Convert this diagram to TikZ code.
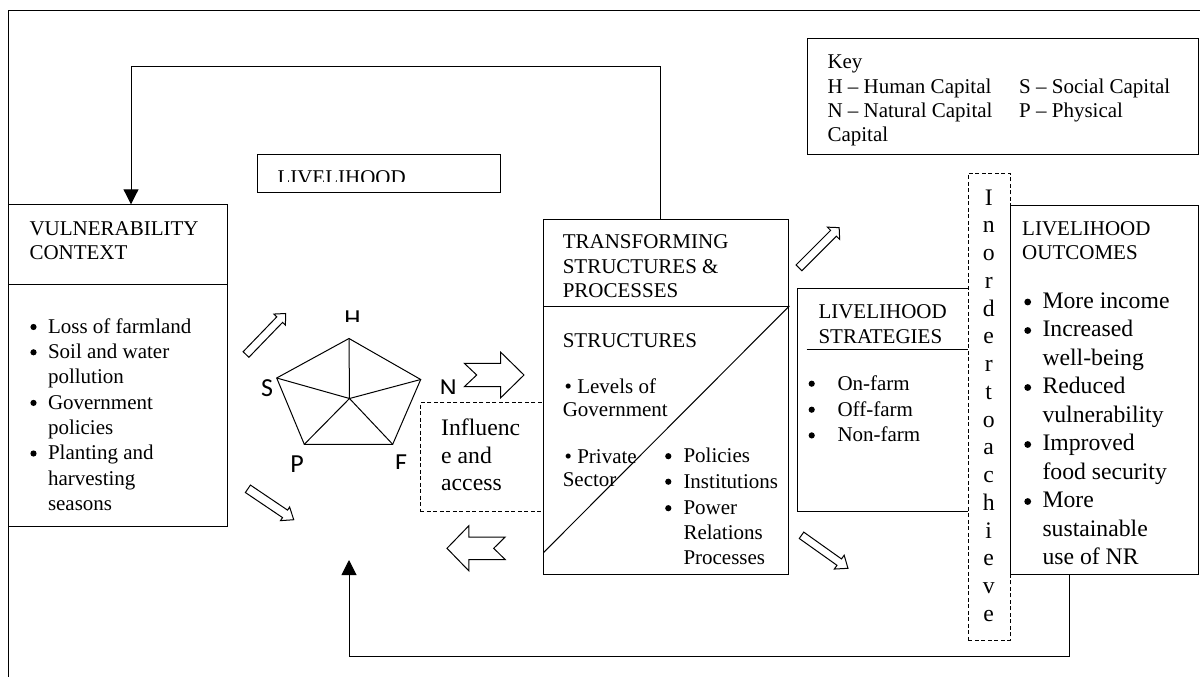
\documentclass[tikz,border=0pt]{standalone}
\usepackage{fontspec}
\setmainfont{Liberation Serif}
\newfontfamily\labfont{Carlito}
\usetikzlibrary{arrows.meta}
\newcounter{tl}
\newcommand\tline[4][txt]{\stepcounter{tl}\node[#1] (t\arabic{tl}) at (#2,#3) {#4};}
\newcommand\bdot[3][6.2]{\stepcounter{tl}\node[circle, fill, inner sep=0pt, minimum size=#1pt] (t\arabic{tl}) at (#2,#3-6.3) {};}
% tail centre, angle, length, shaft half width, head half width, head length, notch
\newcommand\barrow[7]{\begin{scope}[shift={(#1)},rotate=#2]
\draw[ln,fill=white] (0,-#4) -- (#3-#6,-#4) -- (#3-#6,-#5) -- (#3,0) -- (#3-#6,#5) -- (#3-#6,#4) -- (0,#4) -- (#7,0) -- cycle;
\end{scope}}
\begin{document}
\begin{tikzpicture}[x=1pt,y=-1pt,
  ln/.style={line width=1pt},
  boxn/.style={draw, line width=1pt, fill=white, inner sep=0pt, anchor=north west},
  dboxn/.style={draw, line width=0.8pt, dash pattern=on 4pt off 2.5pt, fill=white, inner sep=0pt, anchor=north west},
  txt/.style={anchor=base west, inner sep=0pt, font=\fontsize{21}{24}\selectfont},
  big/.style={anchor=base west, inner sep=0pt, font=\fontsize{23.7}{28}\selectfont},
  vlet/.style={anchor=base, inner sep=0pt, font=\fontsize{23.7}{28}\selectfont},
  lbl/.style={anchor=base, inner sep=0pt, font=\labfont\fontsize{26}{26}\selectfont},
  fb/.style={line width=1pt, -{Triangle[width=15pt,length=15pt]}}]
\useasboundingbox (0,0) rectangle (1200,677);
% outer frame
\draw[ln] (8.4,677) -- (8.4,11) -- (1200,11);
% boxes
\node[boxn, minimum width=218.6pt, minimum height=80pt] (vulh) at (8.4,204.3) {};
\node[boxn, minimum width=218.6pt, minimum height=241.7pt] (vulb) at (8.4,284.3) {};
\node[boxn, minimum width=243.5pt, minimum height=37.7pt] (lhb) at (256.6,154.2) {};
\node[boxn, minimum width=391.2pt, minimum height=116.6pt] (key) at (806.6,37.7) {};
\node[dboxn, minimum width=123.4pt, minimum height=108.7pt] (inf) at (420,402.3) {};
\node[boxn, minimum width=244.9pt, minimum height=86.7pt] (tsh) at (543.4,219.3) {};
\node[boxn, minimum width=244.9pt, minimum height=268pt] (tsb) at (543.4,306) {};
\node[boxn, minimum width=170.7pt, minimum height=222.7pt] (str) at (797.3,288.3) {};
\node[boxn, minimum width=188.3pt, minimum height=369pt] (out) at (1009.5,205) {};
\node[dboxn, minimum width=41.5pt, minimum height=467.3pt] (ach) at (968,172.7) {};
% diagonal in transforming box
\draw[ln] (tsb.north east) -- ([yshift=22.3pt]tsb.south west);
% strategies underline
\draw[ln] (806.7,349.3) -- (968,349.3);
% feedback connectors
\coordinate (c1) at (660,66.7);
\coordinate (c2) at (131,66.7);
\draw[fb] (tsh.north -| c1) -- (c1) -- (c2) -- (vulh.north -| c2);
\coordinate (c3) at (1069,656);
\coordinate (c4) at (349,656);
\coordinate (tipb) at (349,560);
\draw[fb] (out.south -| c3) -- (c3) -- (c4) -- (tipb);
% pentagon
\coordinate (pH) at (349,338.5);
\coordinate (pS) at (276.7,378);
\coordinate (pN) at (420.7,379.5);
\coordinate (pP) at (304.3,444.3);
\coordinate (pF) at (392.7,444.3);
\coordinate (pC) at (349.5,398.5);
\draw[ln, line join=miter] (pH) -- (pN) -- (pF) -- (pP) -- (pS) -- cycle;
\draw[ln] (pC) -- (pH) (pC) -- (pN) (pC) -- (pF) (pC) -- (pP) (pC) -- (pS);
\node[lbl] (lS) at (267,396.7) {S};
\node[lbl] (lP) at (297,472.7) {P};
\begin{scope}\clip (330,300) rectangle (380,321); \node[lbl] (lH) at (352.5,327) {H}; \end{scope}
\begin{scope}\clip (430,370) rectangle (470,393); \node[lbl] (lN) at (448.3,396.5) {N}; \end{scope}
\begin{scope}\clip (385,445) rectangle (418,468.3); \node[lbl] (lF) at (401.2,471) {F}; \end{scope}
% block arrows
\barrow{246,354.5}{46}{57}{4}{8}{8.5}{0}
\barrow{247.9,488.8}{-34}{55.3}{4.5}{8.2}{10.5}{0}
\barrow{799,267.8}{45}{56.8}{4.1}{8.7}{8}{0}
\barrow{801.5,535.3}{-35.4}{57}{3.9}{8.5}{10.7}{0}
\barrow{464.3,375}{0}{59.7}{11.7}{22.8}{23.3}{12.4}
\barrow{505.2,548.3}{180}{58.2}{11.3}{22.5}{21.8}{11.5}
% LIVELIHOOD (clipped)
\begin{scope}\clip (256.6,150) rectangle (500,181.3); \tline{277.3}{184.5}{LIVELIHOOD} \end{scope}
% key
\tline{827.3}{68.3}{Key}
\tline{827.3}{93.3}{H -- Human Capital}
\tline{1019}{93.3}{S -- Social Capital}
\tline{827.3}{117.3}{N -- Natural Capital}
\tline{1019}{117.3}{P -- Physical}
\tline{827.3}{141.7}{Capital}
% vulnerability
\tline{29.3}{235}{VULNERABILITY}
\tline{29.3}{259}{CONTEXT}
\bdot{33.5}{333.3}\tline{47.8}{333.3}{Loss of farmland}
\bdot{33.5}{358.6}\tline{47.8}{358.6}{Soil and water}
\tline{47.8}{383.9}{pollution}
\bdot{33.5}{409.2}\tline{47.8}{409.2}{Government}
\tline{47.8}{434.5}{policies}
\bdot{33.5}{459.8}\tline{47.8}{459.8}{Planting and}
\tline{47.8}{485.1}{harvesting}
\tline{47.8}{510.4}{seasons}
% influence
\tline[big]{441}{435}{Influenc}
\tline[big]{441}{463.3}{e and}
\tline[big]{441}{490}{access}
% transforming
\tline{562.6}{248.3}{TRANSFORMING}
\tline{562.6}{273.3}{STRUCTURES \&}
\tline{562.6}{297.7}{PROCESSES}
\tline{562.6}{347}{STRUCTURES}
\tline{564.5}{393.5}{• Levels of}
\tline{562.6}{416.7}{Government}
\tline{564.5}{463.3}{• Private}
\tline{562.6}{486.7}{Sector}
\bdot{668.3}{462.5}\tline{683.3}{462.5}{Policies}
\bdot{668.3}{488}\tline{683.3}{488}{Institutions}
\bdot{668.3}{514.5}\tline{683.3}{514.5}{Power}
\tline{683.3}{539.3}{Relations}
\tline{683.3}{564.3}{Processes}
% strategies
\tline{818.3}{318.3}{LIVELIHOOD}
\tline{818.3}{343.3}{STRATEGIES}
\bdot{811.7}{390}\tline{837.3}{390}{On-farm}
\bdot{811.7}{416}\tline{837.3}{416}{Off-farm}
\bdot{811.7}{441.7}\tline{837.3}{441.7}{Non-farm}
% in order to achieve
\foreach \c [count=\i from 0] in {I,n,o,r,d,e,r,t,o,a,c,h,i,e,v,e} {
  \node[vlet] (v\i) at (988.7,205+27.75*\i) {\c};
}
% outcomes
\tline{1022}{235}{LIVELIHOOD}
\tline{1022}{259}{OUTCOMES}
\bdot[6.8]{1027.7}{308.3}\tline[big]{1042.3}{308.3}{More income}
\bdot[6.8]{1027.7}{336.8}\tline[big]{1042.3}{336.8}{Increased}
\tline[big]{1042.3}{365.3}{well-being}
\bdot[6.8]{1027.7}{393.8}\tline[big]{1042.3}{393.8}{Reduced}
\tline[big]{1042.3}{422.3}{vulnerability}
\bdot[6.8]{1027.7}{450.8}\tline[big]{1042.3}{450.8}{Improved}
\tline[big]{1042.3}{479.3}{food security}
\bdot[6.8]{1027.7}{507.8}\tline[big]{1042.3}{507.8}{More}
\tline[big]{1042.3}{536.3}{sustainable}
\tline[big]{1042.3}{564.8}{use of NR}
\end{tikzpicture}
\end{document}
